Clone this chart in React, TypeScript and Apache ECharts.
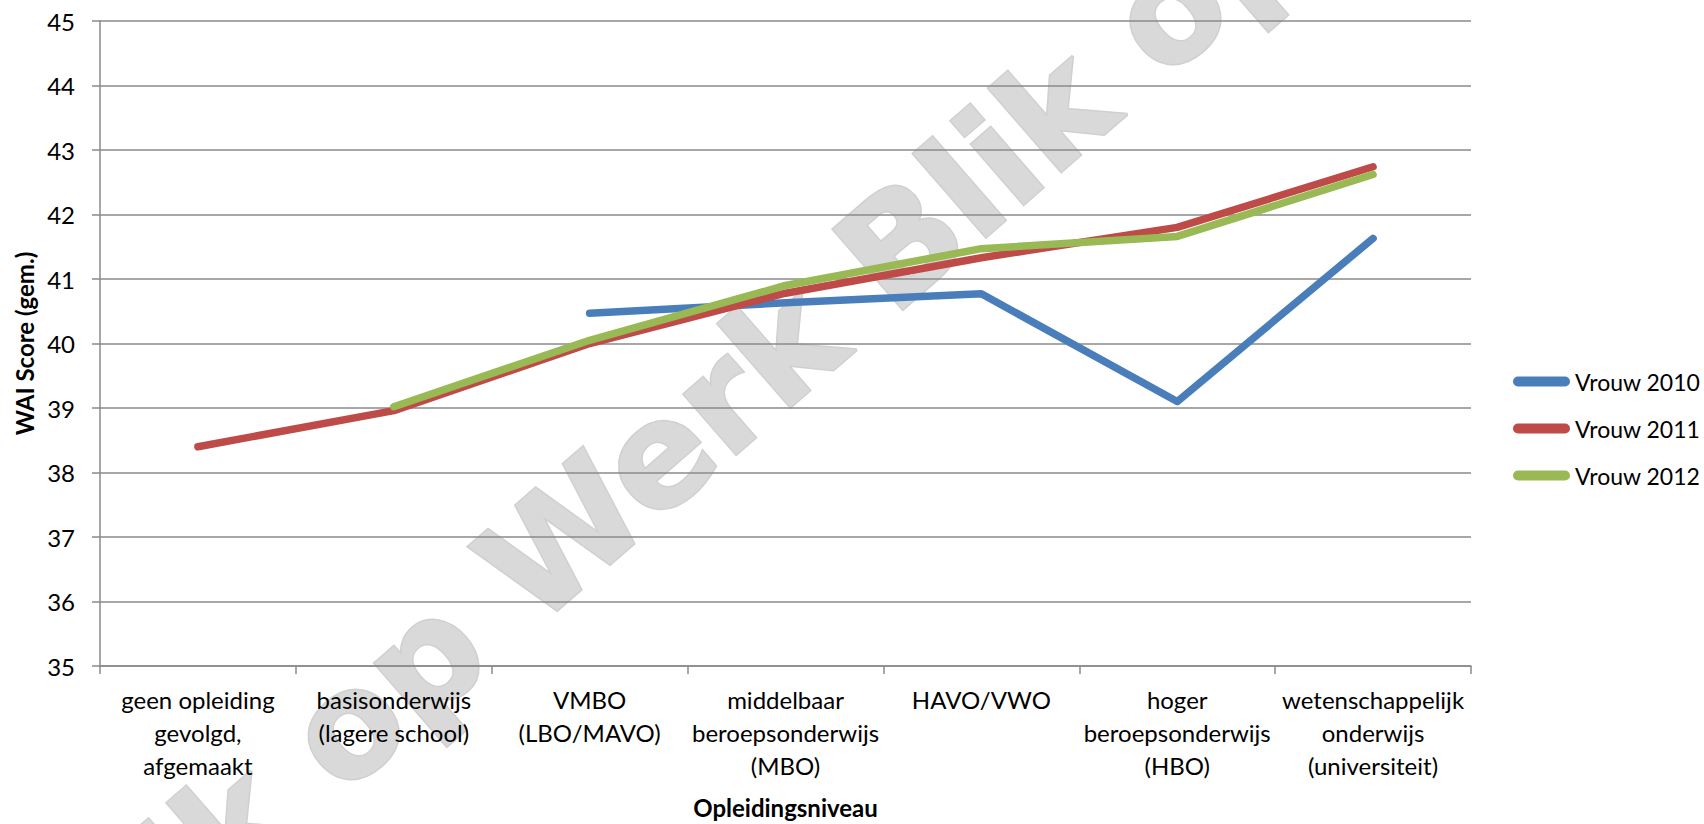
import React, { useEffect, useRef } from "react";
import * as echarts from "echarts";

const categories = [
  "geen opleiding\ngevolgd,\nafgemaakt",
  "basisonderwijs\n(lagere school)",
  "VMBO\n(LBO/MAVO)",
  "middelbaar\nberoepsonderwijs\n(MBO)",
  "HAVO/VWO",
  "hoger\nberoepsonderwijs\n(HBO)",
  "wetenschappelijk\nonderwijs\n(universiteit)",
];

const seriesNames = ["Vrouw 2010", "Vrouw 2011", "Vrouw 2012"];
const vrouw2010 = [null, null, 40.47, 40.63, 40.77, 39.1, 41.63];
const vrouw2011 = [38.4, 38.96, 40.0, 40.78, 41.33, 41.8, 42.74];
const vrouw2012 = [null, 39.02, 40.05, 40.9, 41.47, 41.66, 42.62];

const yMin = 35;
const yMax = 45;
const yInterval = 1;

const colors = ["#4A7EBB", "#BE4B48", "#98B954"];
const watermarkText = "Blik op Werk Blik op Werk";

const FONT = "Lato, 'Open Sans', sans-serif";
const AXIS_GRAY = "#8a8a8a";

export default function App() {
  const ref = useRef<HTMLDivElement>(null);

  useEffect(() => {
    document.body.style.margin = "0";
    const chart = echarts.init(ref.current!, null, { renderer: "svg" });
    const dataSets = [vrouw2010, vrouw2011, vrouw2012];
    chart.setOption({
      animation: false,
      backgroundColor: "#ffffff",
      textStyle: { fontFamily: FONT },
      grid: { left: 100, right: 233, top: 21, bottom: 153, containLabel: false },
      graphic: [
        {
          type: "text",
          x: 38,
          y: 995,
          rotation: 0.716,
          z: -10,
          silent: true,
          style: {
            text: watermarkText,
            fontSize: 146,
            fontWeight: "bold",
            fontFamily: "'DejaVu Sans'",
            fill: "#d9d9d9",
            stroke: "#d0d0d0",
            lineWidth: 3,
            lineJoin: "round",
            align: "left",
            verticalAlign: "middle",
          },
        },
      ],
      legend: {
        orient: "vertical",
        left: 1508,
        top: 365,
        itemWidth: 57,
        itemHeight: 10,
        itemGap: 24,
        icon: "path://M5,0 L52,0 A5,5 0 0 1 52,10 L5,10 A5,5 0 0 1 5,0 Z",
        itemStyle: { borderWidth: 0 },
        textStyle: { fontFamily: FONT, fontSize: 23, color: "#000" },
        data: seriesNames,
      },
      xAxis: {
        type: "category",
        data: categories,
        boundaryGap: true,
        name: "Opleidingsniveau",
        nameLocation: "middle",
        nameGap: 141,
        nameTextStyle: {
          fontFamily: FONT,
          fontSize: 24,
          fontWeight: "bold",
          color: "#000",
          verticalAlign: "middle",
        },
        axisLine: { show: true, lineStyle: { color: AXIS_GRAY, width: 1.5 } },
        axisTick: { show: true, alignWithLabel: false, length: 8, lineStyle: { color: AXIS_GRAY, width: 1.5 } },
        axisLabel: {
          interval: 0,
          margin: 17,
          fontFamily: FONT,
          fontSize: 24,
          lineHeight: 33,
          color: "#000",
          align: "center",
        },
        splitLine: { show: false },
      },
      yAxis: {
        type: "value",
        min: yMin,
        max: yMax,
        interval: yInterval,
        name: "WAI Score (gem.)",
        nameLocation: "middle",
        nameRotate: 90,
        nameGap: 74,
        nameTextStyle: {
          fontFamily: FONT,
          fontSize: 24,
          fontWeight: "bold",
          color: "#000",
          verticalAlign: "middle",
        },
        axisLine: { show: true, lineStyle: { color: AXIS_GRAY, width: 1.5 } },
        axisTick: { show: true, inside: false, length: 8, lineStyle: { color: AXIS_GRAY, width: 1.5 } },
        axisLabel: { margin: 25, fontFamily: FONT, fontSize: 24, color: "#000" },
        splitLine: { show: true, lineStyle: { color: AXIS_GRAY, width: 1.5 } },
      },
      series: seriesNames.map((name, i) => ({
        name,
        type: "line",
        data: dataSets[i],
        showSymbol: false,
        symbol: "none",
        connectNulls: false,
        color: colors[i],
        itemStyle: { color: colors[i] },
        lineStyle: { color: colors[i], width: 7.5, cap: "round", join: "round" },
        z: 2 + i,
      })),
    });
    return () => chart.dispose();
  }, []);

  return <div ref={ref} style={{ width: 1704, height: 824 }} />;
}
